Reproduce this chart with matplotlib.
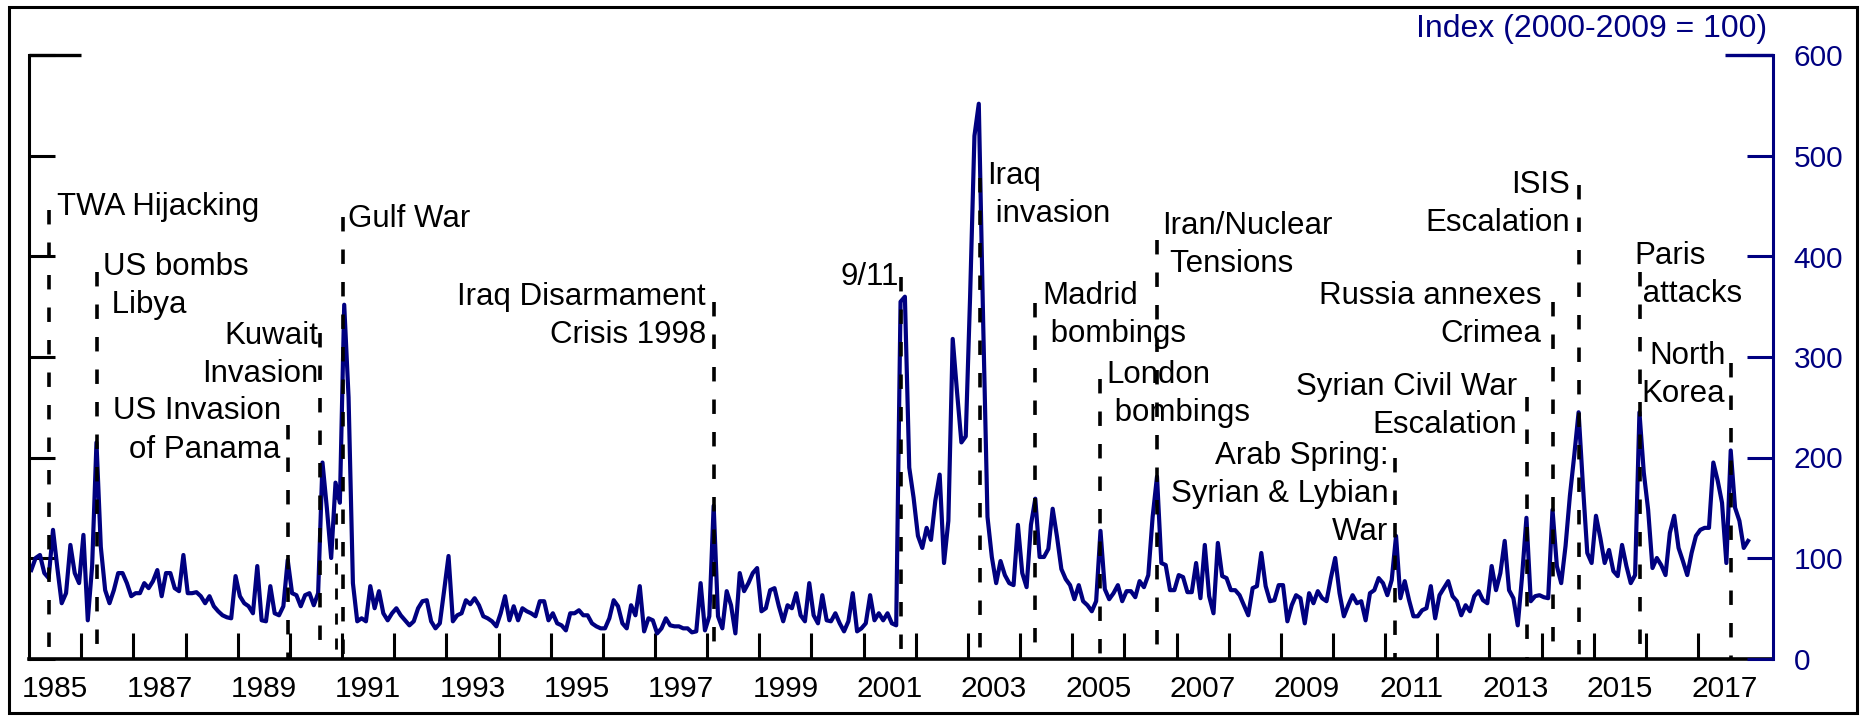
import matplotlib
matplotlib.use("Agg")
import matplotlib.pyplot as plt
from matplotlib.patches import Rectangle

NAVY = "#000080"

# monthly index values, Jan..Dec
gpr_1985 = [88, 100, 103, 85, 80, 128, 90, 55, 65, 113, 85, 75]
gpr_1986 = [123, 38, 92, 215, 111, 68, 55, 68, 85, 85, 75, 62]
gpr_1987 = [65, 65, 75, 70, 77, 88, 62, 85, 85, 70, 67, 103]
gpr_1988 = [65, 65, 66, 62, 55, 62, 52, 47, 43, 41, 40, 82]
gpr_1989 = [62, 55, 52, 45, 92, 38, 37, 72, 45, 43, 52, 98]
gpr_1990 = [65, 63, 52, 63, 65, 53, 65, 195, 150, 100, 175, 155]
gpr_1991 = [352, 260, 75, 37, 40, 37, 72, 50, 67, 45, 38, 45]
gpr_1992 = [50, 43, 38, 33, 37, 50, 57, 58, 37, 30, 35, 68]
gpr_1993 = [102, 37, 43, 45, 58, 54, 60, 53, 42, 40, 37, 32]
gpr_1994 = [45, 62, 38, 52, 38, 50, 47, 45, 42, 57, 57, 38]
gpr_1995 = [45, 35, 33, 28, 45, 45, 48, 43, 43, 35, 32, 30]
gpr_1996 = [30, 40, 58, 52, 35, 30, 53, 43, 72, 27, 40, 38]
gpr_1997 = [25, 30, 40, 33, 32, 32, 30, 30, 26, 27, 75, 28]
gpr_1998 = [42, 152, 42, 30, 67, 53, 25, 85, 67, 75, 85, 90]
gpr_1999 = [47, 50, 68, 70, 52, 37, 53, 50, 65, 43, 37, 75]
gpr_2000 = [43, 35, 63, 38, 37, 45, 35, 27, 37, 65, 27, 30]
gpr_2001 = [35, 63, 38, 45, 38, 45, 35, 33, 355, 360, 190, 160]
gpr_2002 = [122, 110, 130, 118, 157, 183, 95, 137, 318, 265, 215, 221]
gpr_2003 = [360, 520, 552, 336, 141, 101, 75, 97, 83, 75, 73, 133]
gpr_2004 = [85, 71, 133, 159, 101, 101, 109, 149, 121, 89, 79, 73]
gpr_2005 = [59, 73, 57, 53, 47, 57, 127, 69, 59, 65, 73, 57]
gpr_2006 = [67, 67, 61, 77, 71, 83, 141, 181, 95, 93, 68, 68]
gpr_2007 = [83, 81, 66, 66, 95, 60, 113, 62, 45, 115, 82, 80]
gpr_2008 = [68, 68, 63, 53, 43, 70, 72, 105, 72, 57, 58, 73]
gpr_2009 = [73, 37, 53, 63, 60, 35, 65, 55, 67, 60, 57, 80]
gpr_2010 = [100, 65, 42, 53, 63, 55, 57, 38, 65, 68, 80, 75]
gpr_2011 = [63, 78, 122, 60, 77, 58, 42, 42, 48, 50, 72, 40]
gpr_2012 = [63, 70, 77, 62, 57, 43, 53, 47, 62, 67, 58, 55]
gpr_2013 = [92, 68, 85, 117, 68, 60, 33, 82, 140, 57, 62, 63]
gpr_2014 = [61, 60, 148, 92, 75, 112, 162, 202, 245, 172, 105, 95]
gpr_2015 = [142, 120, 95, 108, 87, 82, 113, 92, 75, 83, 245, 185]
gpr_2016 = [148, 90, 100, 93, 83, 125, 142, 110, 97, 83, 105, 122]
gpr_2017 = [128, 130, 130, 195, 177, 155, 95, 207, 150, 137, 110, 117]

years = list(range(1985, 2018))
gpr_by_year = [
    gpr_1985, gpr_1986, gpr_1987, gpr_1988, gpr_1989, gpr_1990, gpr_1991,
    gpr_1992, gpr_1993, gpr_1994, gpr_1995, gpr_1996, gpr_1997, gpr_1998,
    gpr_1999, gpr_2000, gpr_2001, gpr_2002, gpr_2003, gpr_2004, gpr_2005,
    gpr_2006, gpr_2007, gpr_2008, gpr_2009, gpr_2010, gpr_2011, gpr_2012,
    gpr_2013, gpr_2014, gpr_2015, gpr_2016, gpr_2017,
]

event_dates = [1985.38, 1986.31, 1989.96, 1990.57, 1991.01, 1998.14, 2001.71,
               2003.24, 2004.29, 2005.54, 2006.62, 2011.19, 2013.72, 2014.21,
               2014.71, 2015.88, 2017.63]
event_labels = [
    "TWA Hijacking", "US bombs\n Libya", "US Invasion\nof Panama",
    "Kuwait\nInvasion", "Gulf War", "Iraq Disarmament\nCrisis 1998", "9/11",
    "Iraq\n invasion", "Madrid\n bombings", "London\n bombings",
    "Iran/Nuclear\n Tensions", "Arab Spring:\nSyrian & Lybian\nWar",
    "Syrian Civil War\nEscalation", "Russia annexes\nCrimea",
    "ISIS\nEscalation", "Paris\n attacks", "North\nKorea",
]
# unlabeled marker just before the Gulf War line
extra_date = 1990.88
y_ticks = [0, 100, 200, 300, 400, 500, 600]
x_label_years = list(range(1985, 2018, 2))

# layout of each event marker: (line top, last-line baseline, x offset in pt, align)
event_layout = [
    (446, 441, 6, "left"), (385, 344, 4, "left"), (232, 200, -5, "right"),
    (324, 275, -1, "right"), (439, 429, 4, "left"), (355, 314, -6, "right"),
    (380, 372, -1, "right"), (478, 434, 5, "left"), (354, 315, 5, "left"),
    (278, 236, 4, "left"), (416, 385, 4, "left"), (200, 118, -5, "right"),
    (260, 224, -7, "right"), (355, 315, -8, "right"), (471, 425, -6, "right"),
    (385, 355, -4, "left"), (294, 255, -4, "right"),
]
extra_top = 170

t = []
v = []
for yr, vals in zip(years, gpr_by_year):
    for m, val in enumerate(vals):
        t.append(yr + (m + 0.5) / 12)
        v.append(val)

plt.rcParams["font.family"] = ["Liberation Sans", "DejaVu Sans"]
FS = 21.5
FS_LABEL = 22.5

W, H = 1866, 721
fig = plt.figure(figsize=(W / 100, H / 100), dpi=100)
ax_l, ax_r, ax_b, ax_t = 29.1, 1772.7, 658.5, 55.5
ax = fig.add_axes([ax_l / W, 1 - ax_b / H, (ax_r - ax_l) / W, (ax_b - ax_t) / H])
ax2 = ax.twinx()

ax.plot(t, v, color=NAVY, lw=3.0, zorder=2)

for date, label, (top, base, dx, ha) in zip(event_dates, event_labels, event_layout):
    ax.plot([date, date], [top, 0], color="black", lw=2.6,
            linestyle=(0, (4, 5)), zorder=3)
    ax.annotate(label, xy=(date, base), xytext=(dx, 0), textcoords="offset points",
                ha=ha, va="baseline", fontsize=FS_LABEL, linespacing=1.35, zorder=4)
ax.plot([extra_date, extra_date], [extra_top, 0], color="black", lw=2.0,
        linestyle=(0, (4, 5)), zorder=1)

ax.set_xlim(1985.0, 2018.43)
ax.set_ylim(0, 600)
ax2.set_ylim(0, 600)

ax.set_xticks(range(1986, 2018))
ax.set_xticklabels([])
ax.set_xticks([y + 0.5 for y in x_label_years], minor=True)
ax.set_xticklabels([str(y) for y in x_label_years], minor=True)
ax.tick_params(axis="x", which="major", direction="in", length=18.7, width=2.2)
ax.tick_params(axis="x", which="minor", length=0, labelsize=FS, pad=12)

ax.set_yticks(y_ticks)
ax.tick_params(axis="y", direction="in", length=18.7, width=2.2, labelleft=False)
ax2.set_yticks(y_ticks)
ax2.tick_params(axis="y", direction="in", length=18.7, width=2.2, colors=NAVY,
                labelsize=FS, pad=15)

for s in ["top", "right"]:
    ax.spines[s].set_visible(False)
for s in ["top", "left", "bottom"]:
    ax2.spines[s].set_visible(False)
ax.spines["left"].set_linewidth(2.2)
ax.spines["bottom"].set_linewidth(2.6)
ax2.spines["right"].set_linewidth(2.2)
ax2.spines["right"].set_color(NAVY)

axw = ax_r - ax_l
ax.axhline(600, xmin=0, xmax=52 / axw, color="black", lw=2.4, clip_on=False,
           solid_capstyle="butt")
ax2.axhline(600, xmin=1 - 48 / axw, xmax=1, color=NAVY, lw=2.4, clip_on=False,
            solid_capstyle="butt")

fig.text(1767 / W, 1 - 36.7 / H, "Index (2000-2009 = 100)", color=NAVY,
         fontsize=23, ha="right", va="baseline")

fig.add_artist(Rectangle((8.5 / W, 8.5 / H), (1857 - 8.5) / W, (713 - 7.5) / H,
                         transform=fig.transFigure, fill=False, lw=2.2, ec="black"))

fig.savefig("out.png", dpi=100)
